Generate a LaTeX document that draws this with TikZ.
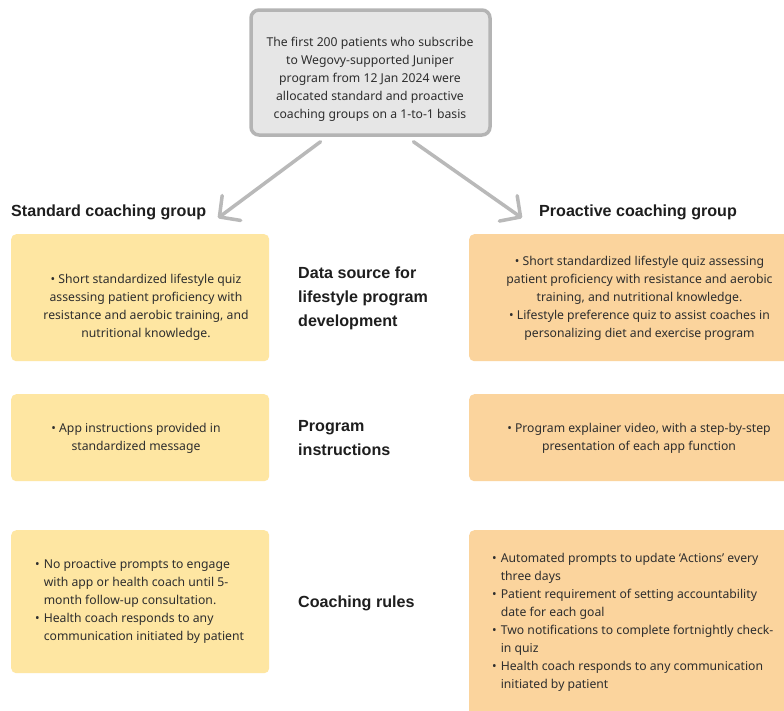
\documentclass[tikz,border=0pt]{standalone}
\usepackage{fontspec}
\setmainfont{Noto Sans}
\newfontfamily\headfont{Liberation Sans}
\usetikzlibrary{arrows.meta,positioning}
\definecolor{stdfill}{HTML}{FEE6A2}
\definecolor{profill}{HTML}{FBD49D}
\definecolor{topfill}{HTML}{E6E6E6}
\definecolor{topline}{HTML}{B4B4B4}
\definecolor{arrowgray}{HTML}{B9B9B9}
\definecolor{bodytext}{HTML}{2E2E2E}
\definecolor{headtext}{HTML}{1E1E1E}
\newcommand{\itemrow}[2]{\textbullet & #1\\ & #2}

\begin{document}
\begin{tikzpicture}[x=1pt, y=-1pt,
  every node/.style={font=\fontsize{12.2}{18}\selectfont, text=bodytext},
  stdbox/.style={fill=stdfill, rounded corners=5pt, anchor=north west, inner sep=0pt, minimum width=258pt},
  probox/.style={fill=profill, rounded corners=5pt, anchor=north west, inner sep=0pt, minimum width=340pt},
  bodytxt/.style={align=center, inner sep=0pt},
  heading/.style={font=\headfont\bfseries\fontsize{16.1}{24}\selectfont, text=headtext, anchor=west, align=left, inner sep=0pt},
  grouparrow/.style={draw=arrowgray, line width=3.5pt, line cap=round, -{Straight Barb[length=15pt,width=31pt,round]}}]
  \clip (0,0) rectangle (784,710);
  \fill[white] (0,0) rectangle (784,710);

  \node[draw=topline, fill=topfill, line width=3.5pt, rounded corners=8pt, minimum width=239pt, minimum height=125pt, inner sep=0pt] (trial) at (370.5,72.5) {};
  \node[bodytxt] (trialtxt) at (370,79) {The first 200 patients who subscribe\\ to Wegovy-supported Juniper\\ program from 12 Jan 2024 were\\ allocated standard and proactive\\ coaching groups on a 1-to-1 basis};

  \coordinate (stdtip) at (218,218);
  \coordinate (protip) at (522,218);
  \draw[grouparrow] ([xshift=-50pt,yshift=-5pt]trial.south) -- (stdtip);
  \draw[grouparrow] ([xshift=43pt,yshift=-5pt]trial.south) -- (protip);

  \node[heading] (stdhead) at (11,212) {Standard coaching group};
  \node[heading] (prohead) at (539,212) {Proactive coaching group};

  \node[stdbox, minimum height=127pt] (stddata) at (11,234) {};
  \node[stdbox, minimum height=87pt] (stdinstr) at (11,394) {};
  \node[stdbox, minimum height=143pt] (stdrules) at (11,530) {};
  \node[probox, minimum height=127pt] (prodata) at (469,234) {};
  \node[probox, minimum height=87pt] (proinstr) at (469,394) {};
  \node[probox, minimum height=186pt] (prorules) at (469,530) {};

  \node[heading] (datalabel) at (298,298) {Data source for\\ lifestyle program\\ development};
  \node[heading] (instrlabel) at (298,438.5) {Program\\ instructions};
  \node[heading] (ruleslabel) at (298,603) {Coaching rules};

  \node[bodytxt] (stddatatxt) at (146,307) {\textbullet\ Short standardized lifestyle quiz\\ assessing patient proficiency with\\ resistance and aerobic training, and\\ nutritional knowledge.};
  \node[bodytxt] (prodatatxt) at (639.5,298) {\textbullet\ Short standardized lifestyle quiz assessing\\ patient proficiency with resistance and aerobic\\ training, and nutritional knowledge.\\ \textbullet\ Lifestyle preference quiz to assist coaches in\\ personalizing diet and exercise program};
  \node[bodytxt] (stdinstrtxt) at (136,438) {\textbullet\ App instructions provided in\\ standardized message};
  \node[bodytxt] (proinstrtxt) at (639,438) {\textbullet\ Program explainer video, with a step-by-step\\ presentation of each app function};

  \node[bodytxt, anchor=west] (stdrulestxt) at (35,601) {\begin{tabular}{@{}l@{\hspace{4pt}}l@{}}
    \itemrow{No proactive prompts to engage}{with app or health coach until 5-}\\
    & month follow-up consultation.\\
    \itemrow{Health coach responds to any}{communication initiated by patient}
  \end{tabular}};
  \node[bodytxt, anchor=west] (prorulestxt) at (492,622) {\begin{tabular}{@{}l@{\hspace{4pt}}l@{}}
    \itemrow{Automated prompts to update ‘Actions’ every}{three days}\\
    \itemrow{Patient requirement of setting accountability}{date for each goal}\\
    \itemrow{Two notifications to complete fortnightly check-}{in quiz}\\
    \itemrow{Health coach responds to any communication}{initiated by patient}
  \end{tabular}};
\end{tikzpicture}
\end{document}
